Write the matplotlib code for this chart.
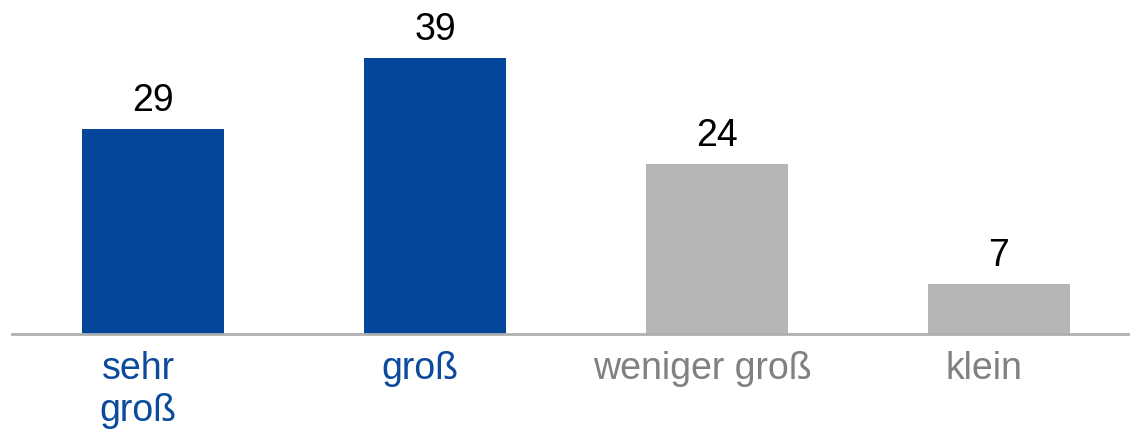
import matplotlib.pyplot as plt

plt.rcParams['font.family'] = ['Liberation Sans', 'DejaVu Sans']

categories = ["sehr\ngroß", "groß", "weniger groß", "klein"]
values = [29, 39, 24, 7]
bar_colors = ["#03469A", "#03469A", "#B6B6B6", "#B6B6B6"]
label_colors = ["#0B4A9C", "#0B4A9C", "#808080", "#808080"]

W, H = 1130, 433
fig = plt.figure(figsize=(W / 100, H / 100), dpi=100)

# axes placed in pixels: baseline at y=334, left edge at x=12
ax = fig.add_axes([12 / W, 99 / H, 1118 / W, 334 / H])

x = list(range(len(values)))
ax.bar(x, values, width=0.504, color=bar_colors, zorder=2)

ax.set_xlim(-0.5, -0.5 + 1118 / 282)
ax.set_ylim(0, 334 / 7.08)

for i, v in zip(x, values):
    ax.annotate(str(v), (i, v), xytext=(0, 10), textcoords="offset pixels",
                ha="center", va="bottom", fontsize=27, color="black")

# category labels sit a bit left of the bar centres
ax.set_xticks([i - 15 / 282 for i in x])
ax.set_xticklabels(categories, fontsize=27, linespacing=1.22)
for lbl, c in zip(ax.get_xticklabels(), label_colors):
    lbl.set_color(c)
ax.tick_params(axis="x", length=0, pad=12)
ax.set_yticks([])

for side in ["top", "right", "left"]:
    ax.spines[side].set_visible(False)
ax.spines["bottom"].set_color("#B0B0B0")
ax.spines["bottom"].set_linewidth(2)

fig.savefig("out.png", dpi=100)
